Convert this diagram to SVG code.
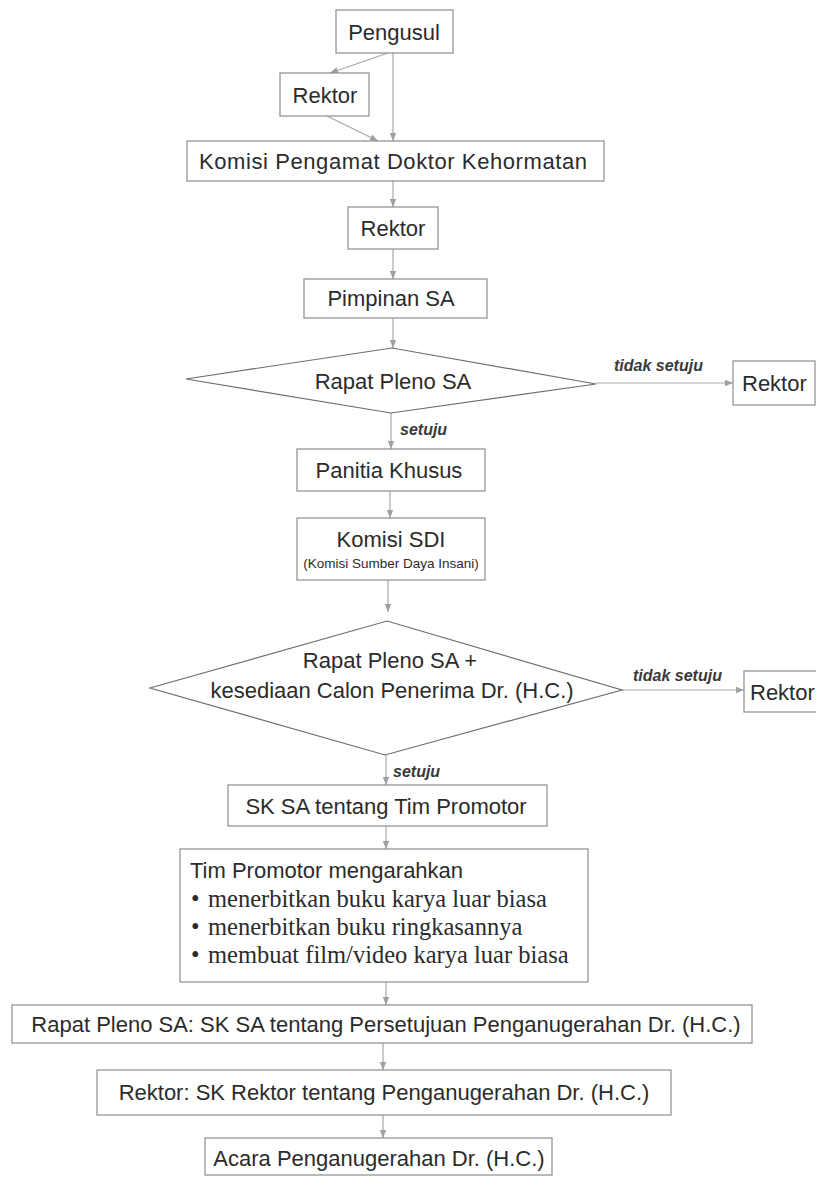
<svg xmlns="http://www.w3.org/2000/svg" width="816" height="1177" viewBox="0 0 816 1177">
<style>
.box{fill:#fff;stroke:#8c8c8c;stroke-width:1.2}
.dia{fill:#fff;stroke:#6e6e6e;stroke-width:1.2}
.t{font-family:"Liberation Sans",Arial,sans-serif;font-size:22px;fill:#2b2b2b;text-anchor:middle;dominant-baseline:central}
.s{font-family:"Liberation Sans",Arial,sans-serif;font-size:13.5px;fill:#2b2b2b;text-anchor:middle;dominant-baseline:central}
.lbl{font-family:"Liberation Sans",Arial,sans-serif;font-size:16px;font-style:italic;font-weight:bold;fill:#3a3a3a}
.tl{font-family:"Liberation Sans",Arial,sans-serif;font-size:22px;fill:#2b2b2b}
.sr{font-family:"Liberation Serif","Times New Roman",serif;font-size:24.5px;fill:#2b2b2b}
.c{fill:none;stroke:#a8a8a8;stroke-width:1.2;marker-end:url(#ah)}
</style>
<defs>
<marker id="ah" viewBox="0 0 10 10" refX="10" refY="5" markerUnits="userSpaceOnUse" markerWidth="8" markerHeight="8" orient="auto">
<path d="M0,1 L10,5 L0,9 z" fill="#a0a0a0"/>
</marker>
</defs>
<rect width="816" height="1177" fill="#fff"/>

<g id="connectors">
<path class="c" d="M388,53 L330,73"/>
<path class="c" d="M393,53 L393,141"/>
<path class="c" d="M327,116 L378,141"/>
<path class="c" d="M393,181 L393,207"/>
<path class="c" d="M393,249 L393,279"/>
<path class="c" d="M393,318 L393,348"/>
<path class="c" d="M596,383 L733,383"/>
<path class="c" d="M391,413 L391,449"/>
<path class="c" d="M390,491 L390,518"/>
<path class="c" d="M388,580 L388,612"/>
<path class="c" d="M622,690 L744,690"/>
<path class="c" d="M386,755 L386,785"/>
<path class="c" d="M386,826 L386,849"/>
<path class="c" d="M386,982 L386,1005"/>
<path class="c" d="M383,1043 L383,1070"/>
<path class="c" d="M383,1115 L383,1138"/>
<text class="lbl" x="614" y="371">tidak setuju</text>
<text class="lbl" x="400" y="435">setuju</text>
<text class="lbl" x="633" y="681">tidak setuju</text>
<text class="lbl" x="393" y="777">setuju</text>
</g>

<g id="pengusul"><rect class="box" x="336" y="10" width="117" height="43"/><text class="t" x="394" y="32">Pengusul</text></g>
<g id="rektor1"><rect class="box" x="280" y="73" width="89" height="43"/><text class="t" x="325" y="95">Rektor</text></g>
<g id="komisi-pengamat"><rect class="box" x="187" y="141" width="417" height="40"/><text class="t" x="393" y="161" textLength="388">Komisi Pengamat Doktor Kehormatan</text></g>
<g id="rektor2"><rect class="box" x="348" y="207" width="90" height="42"/><text class="t" x="393" y="228">Rektor</text></g>
<g id="pimpinan-sa"><rect class="box" x="304" y="279" width="183" height="39"/><text class="t" x="391" y="298">Pimpinan SA</text></g>
<g id="rapat-pleno-1"><polygon class="dia" points="186,379 392,348 596,384 391,413"/><text class="t" x="393" y="381">Rapat Pleno SA</text></g>
<g id="rektor-tolak-1"><rect class="box" x="733" y="361" width="82" height="44"/><text class="t" x="742" y="383" style="text-anchor:start">Rektor</text></g>
<g id="panitia-khusus"><rect class="box" x="297" y="449" width="188" height="42"/><text class="t" x="389" y="470">Panitia Khusus</text></g>
<g id="komisi-sdi"><rect class="box" x="297" y="518" width="188" height="62"/><text class="t" x="391" y="539">Komisi SDI</text><text class="s" x="391" y="563">(Komisi Sumber Daya Insani)</text></g>
<g id="rapat-pleno-2"><polygon class="dia" points="150,688 387,621 622,690 385,755"/><text class="t" x="390" y="660">Rapat Pleno SA +</text><text class="t" x="392" y="690">kesediaan Calon Penerima Dr. (H.C.)</text></g>
<g id="rektor-tolak-2"><rect class="box" x="744" y="671" width="84" height="41"/><text class="t" x="750" y="692" style="text-anchor:start">Rektor</text></g>
<g id="sk-tim-promotor"><rect class="box" x="228" y="785" width="319" height="41"/><text class="t" x="386" y="806">SK SA tentang Tim Promotor</text></g>
<g id="tim-promotor"><rect class="box" x="180" y="849" width="408" height="133"/>
<text class="tl" x="190" y="878">Tim Promotor mengarahkan</text>
<text class="sr" x="191" y="907">•</text><text class="sr" x="208" y="907">menerbitkan buku karya luar biasa</text>
<text class="sr" x="191" y="935">•</text><text class="sr" x="208" y="935">menerbitkan buku ringkasannya</text>
<text class="sr" x="191" y="963">•</text><text class="sr" x="208" y="963">membuat film/video karya luar biasa</text>
</g>
<g id="sk-persetujuan"><rect class="box" x="12" y="1005" width="740" height="38"/><text class="t" x="386" y="1024">Rapat Pleno SA: SK SA tentang Persetujuan Penganugerahan Dr. (H.C.)</text></g>
<g id="sk-rektor"><rect class="box" x="97" y="1070" width="574" height="45"/><text class="t" x="384" y="1092">Rektor: SK Rektor tentang Penganugerahan Dr. (H.C.)</text></g>
<g id="acara"><rect class="box" x="205" y="1138" width="347" height="37"/><text class="t" x="379" y="1158">Acara Penganugerahan Dr. (H.C.)</text></g>
</svg>
